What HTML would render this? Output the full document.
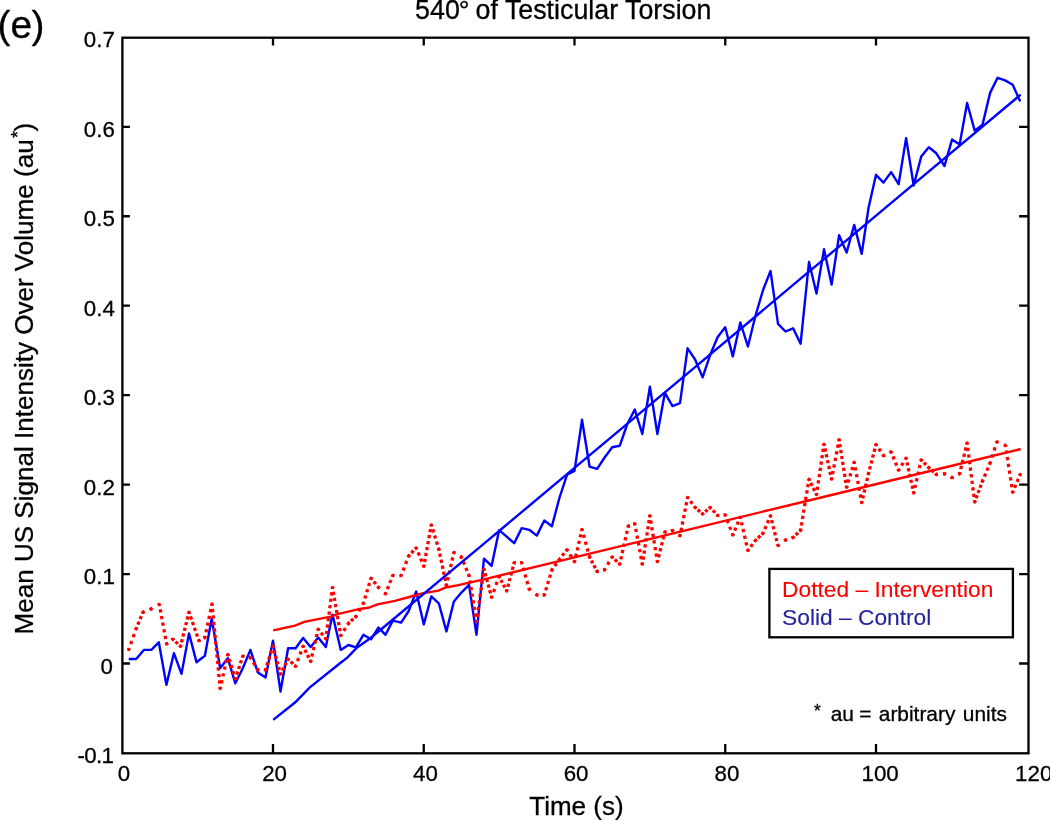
<!DOCTYPE html>
<html><head><meta charset="utf-8"><title>540° of Testicular Torsion</title>
<style>
html,body{margin:0;padding:0;background:#fff;}
body{width:1050px;height:820px;overflow:hidden;}
svg{display:block;font-family:"Liberation Sans",sans-serif;}
text{stroke-width:0.3px;stroke-linejoin:round;}
</style></head>
<body>
<svg width="1050" height="820" viewBox="0 0 1050 820">
<rect width="1050" height="820" fill="#fff"/>
<rect x="122.40" y="37.70" width="906.10" height="715.60" fill="none" stroke="#000" stroke-width="2.30"/>
<path d="M273.00 753.30 v-9.20 M273.00 37.70 v7.70 M423.75 753.30 v-9.20 M423.75 37.70 v7.70 M574.50 753.30 v-9.20 M574.50 37.70 v7.70 M725.25 753.30 v-9.20 M725.25 37.70 v7.70 M876.00 753.30 v-9.20 M876.00 37.70 v7.70 M122.40 663.50 h7.50 M1028.50 663.50 h-9.40 M122.40 574.05 h7.50 M1028.50 574.05 h-9.40 M122.40 484.60 h7.50 M1028.50 484.60 h-9.40 M122.40 395.15 h7.50 M1028.50 395.15 h-9.40 M122.40 305.70 h7.50 M1028.50 305.70 h-9.40 M122.40 216.25 h7.50 M1028.50 216.25 h-9.40 M122.40 126.80 h7.50 M1028.50 126.80 h-9.40" stroke="#000" stroke-width="2.30" fill="none"/>
<g font-size="22.3" fill="#000" stroke="#000"><text x="124.0" y="780.8" text-anchor="middle">0</text><text x="274.6" y="780.8" text-anchor="middle">20</text><text x="425.4" y="780.8" text-anchor="middle">40</text><text x="576.1" y="780.8" text-anchor="middle">60</text><text x="726.9" y="780.8" text-anchor="middle">80</text><text x="880.1" y="780.8" text-anchor="middle">100</text><text x="1033.7" y="780.8" text-anchor="middle">120</text><text x="113.1" y="762.9" text-anchor="end" letter-spacing="-0.7">-0.1</text><text x="113.0" y="673.9" text-anchor="end">0</text><text x="114.8" y="583.9" text-anchor="end">0.1</text><text x="114.8" y="494.5" text-anchor="end">0.2</text><text x="114.8" y="405.1" text-anchor="end">0.3</text><text x="114.8" y="315.6" text-anchor="end">0.4</text><text x="114.8" y="226.2" text-anchor="end">0.5</text><text x="114.8" y="136.7" text-anchor="end">0.6</text><text x="114.8" y="47.3" text-anchor="end">0.7</text></g>
<polyline points="128.7,659.0 136.2,659.0 143.8,649.9 151.3,649.9 158.8,642.3 166.4,684.9 173.9,653.2 181.5,673.9 189.0,633.4 196.5,662.3 204.9,655.8 211.7,618.5 220.2,668.2 227.8,658.2 235.3,683.3 242.8,668.2 250.4,649.9 257.9,672.6 265.5,677.6 273.0,640.6 280.5,691.5 288.1,648.3 295.6,648.3 303.1,638.0 310.7,647.0 318.2,637.6 325.8,647.0 332.5,614.6 340.8,649.9 348.4,645.0 355.9,647.4 363.4,634.8 371.0,639.3 378.5,627.5 385.5,634.8 392.8,620.7 401.1,622.7 408.7,611.0 416.2,591.5 423.8,624.4 431.3,596.4 438.8,603.3 446.4,631.4 453.9,601.5 461.4,592.6 469.0,584.8 476.5,634.7 484.0,558.6 491.6,565.9 499.1,530.2 506.7,536.7 514.2,543.2 521.7,528.1 529.3,529.8 536.8,535.6 544.3,520.5 551.9,526.2 559.4,498.0 567.0,474.8 574.5,470.9 582.0,419.8 589.6,466.7 597.1,468.8 604.6,457.5 612.2,447.3 619.7,445.8 627.3,424.0 634.8,409.6 642.3,434.0 649.9,386.8 657.4,434.0 664.9,392.8 672.5,406.1 680.0,403.2 687.6,348.3 695.1,359.5 702.6,377.4 710.2,354.8 717.7,337.0 725.2,327.2 732.8,356.4 740.3,322.4 747.9,346.5 755.4,316.0 762.9,290.5 770.5,270.9 778.0,323.8 785.5,331.5 793.1,328.3 800.6,343.7 809.0,262.0 816.5,293.5 824.0,249.3 831.6,284.6 839.1,235.2 846.6,252.6 854.2,224.9 861.7,253.9 868.5,208.0 876.0,174.8 883.5,182.6 891.1,172.1 898.6,184.2 906.1,138.1 913.7,185.5 921.2,156.6 928.8,147.2 936.3,153.3 944.5,166.0 952.1,139.4 959.6,144.6 967.1,103.0 974.7,130.6 982.5,124.8 990.1,92.9 997.6,77.8 1005.1,80.4 1012.7,84.8 1020.2,101.5" stroke="#0000ff" stroke-width="2.40" fill="none" stroke-linejoin="round"/>
<g stroke="#ff0000" stroke-width="3.30" fill="none" stroke-dashoffset="1.62"><path d="M128.7 649.6L136.2 628.6" stroke-dasharray="3.25 4.19"/><path d="M136.2 628.6L143.0 612.2" stroke-dasharray="3.25 2.66"/><path d="M143.0 612.2L151.0 609.0" stroke-dasharray="3.25 5.40"/><path d="M151.0 609.0L159.3 604.3" stroke-dasharray="3.25 6.32"/><path d="M159.3 604.3L166.6 644.0" stroke-dasharray="3.25 3.48"/><path d="M166.6 644.0L172.9 639.1" stroke-dasharray="3.25 4.76"/><path d="M172.9 639.1L180.5 646.4" stroke-dasharray="3.25 2.00"/><path d="M180.5 646.4L189.0 612.2" stroke-dasharray="3.25 2.62"/><path d="M189.0 612.2L198.9 640.7" stroke-dasharray="3.25 2.79"/><path d="M198.9 640.7L204.9 637.5" stroke-dasharray="3.25 3.49"/><path d="M204.9 637.5L212.0 604.0" stroke-dasharray="3.25 3.60"/><path d="M212.0 604.0L220.2 688.5" stroke-dasharray="3.25 3.28"/><path d="M220.2 688.5L227.8 654.5" stroke-dasharray="3.25 3.72"/><path d="M227.8 654.5L235.3 678.8" stroke-dasharray="3.25 3.11"/><path d="M235.3 678.8L242.8 656.1" stroke-dasharray="3.25 2.73"/><path d="M242.8 656.1L250.4 657.7" stroke-dasharray="3.25 4.46"/><path d="M250.4 657.7L257.9 669.9" stroke-dasharray="3.25 3.92"/><path d="M257.9 669.9L265.5 669.9" stroke-dasharray="3.25 4.29"/><path d="M265.5 669.9L273.0 646.0" stroke-dasharray="3.25 3.02"/><path d="M273.0 646.0L280.5 674.2" stroke-dasharray="3.25 2.59"/><path d="M280.5 674.2L288.1 659.1" stroke-dasharray="3.25 2.38"/><path d="M288.1 659.1L295.6 666.4" stroke-dasharray="3.25 2.00"/><path d="M295.6 666.4L303.1 646.1" stroke-dasharray="3.25 3.97"/><path d="M303.1 646.1L310.7 661.5" stroke-dasharray="3.25 2.47"/><path d="M310.7 661.5L318.2 629.1" stroke-dasharray="3.25 3.40"/><path d="M318.2 629.1L325.8 638.9" stroke-dasharray="3.25 2.93"/><path d="M325.8 638.9L332.5 587.4" stroke-dasharray="3.25 3.24"/><path d="M332.5 587.4L340.8 635.7" stroke-dasharray="3.25 2.88"/><path d="M340.8 635.7L348.4 623.4" stroke-dasharray="3.25 3.96"/><path d="M348.4 623.4L355.9 616.6" stroke-dasharray="3.25 1.83"/><path d="M355.9 616.6L363.4 603.3" stroke-dasharray="3.25 4.39"/><path d="M363.4 603.3L371.0 578.2" stroke-dasharray="3.25 3.30"/><path d="M371.0 578.2L378.5 587.4" stroke-dasharray="3.25 2.70"/><path d="M378.5 587.4L385.5 593.9" stroke-dasharray="3.25 6.26"/><path d="M385.5 593.9L392.8 575.3" stroke-dasharray="3.25 3.41"/><path d="M392.8 575.3L401.1 575.6" stroke-dasharray="3.25 5.09"/><path d="M401.1 575.6L408.7 555.9" stroke-dasharray="3.25 3.78"/><path d="M408.7 555.9L416.2 547.8" stroke-dasharray="3.25 2.28"/><path d="M416.2 547.8L423.8 566.4" stroke-dasharray="3.25 3.44"/><path d="M423.8 566.4L431.3 524.8" stroke-dasharray="3.25 2.79"/><path d="M431.3 524.8L438.8 549.2" stroke-dasharray="3.25 3.13"/><path d="M438.8 549.2L446.4 585.3" stroke-dasharray="3.25 2.90"/><path d="M446.4 585.3L453.9 552.4" stroke-dasharray="3.25 3.50"/><path d="M453.9 552.4L461.4 557.0" stroke-dasharray="3.25 5.58"/><path d="M461.4 557.0L469.0 575.4" stroke-dasharray="3.25 3.38"/><path d="M469.0 575.4L476.5 621.7" stroke-dasharray="3.25 3.45"/><path d="M476.5 621.7L484.0 569.1" stroke-dasharray="3.25 3.39"/><path d="M484.0 569.1L491.6 597.4" stroke-dasharray="3.25 2.61"/><path d="M491.6 597.4L499.1 576.5" stroke-dasharray="3.25 4.16"/><path d="M499.1 576.5L506.7 591.0" stroke-dasharray="3.25 2.20"/><path d="M506.7 591.0L514.2 562.6" stroke-dasharray="3.25 2.63"/><path d="M514.2 562.6L521.7 562.6" stroke-dasharray="3.25 4.29"/><path d="M521.7 562.6L529.3 589.3" stroke-dasharray="3.25 3.69"/><path d="M529.3 589.3L536.8 595.0" stroke-dasharray="3.25 6.20"/><path d="M536.8 595.0L544.3 595.0" stroke-dasharray="3.25 4.29"/><path d="M544.3 595.0L551.9 569.9" stroke-dasharray="3.25 3.30"/><path d="M551.9 569.9L559.4 559.4" stroke-dasharray="3.25 3.21"/><path d="M559.4 559.4L567.0 549.7" stroke-dasharray="3.25 2.89"/><path d="M567.0 549.7L574.5 561.8" stroke-dasharray="3.25 3.88"/><path d="M574.5 561.8L582.0 529.4" stroke-dasharray="3.25 3.40"/><path d="M582.0 529.4L589.6 557.0" stroke-dasharray="3.25 3.90"/><path d="M589.6 557.0L597.1 571.5" stroke-dasharray="3.25 2.20"/><path d="M597.1 571.5L604.6 569.8" stroke-dasharray="3.25 4.48"/><path d="M604.6 569.8L612.2 556.9" stroke-dasharray="3.25 4.22"/><path d="M612.2 556.9L619.7 564.2" stroke-dasharray="3.25 2.00"/><path d="M619.7 564.2L628.3 526.0" stroke-dasharray="3.25 3.27"/><path d="M628.3 526.0L634.8 523.7" stroke-dasharray="3.25 3.68"/><path d="M634.8 523.7L642.3 564.2" stroke-dasharray="3.25 3.62"/><path d="M642.3 564.2L649.9 515.6" stroke-dasharray="3.25 2.90"/><path d="M649.9 515.6L657.4 561.7" stroke-dasharray="3.25 3.42"/><path d="M657.4 561.7L664.9 531.8" stroke-dasharray="3.25 2.92"/><path d="M664.9 531.8L672.5 530.5" stroke-dasharray="3.25 4.40"/><path d="M672.5 530.5L680.0 535.8" stroke-dasharray="3.25 5.96"/><path d="M680.0 535.8L687.6 497.3" stroke-dasharray="3.25 3.29"/><path d="M687.6 497.3L695.1 507.5" stroke-dasharray="3.25 3.09"/><path d="M695.1 507.5L702.6 514.0" stroke-dasharray="3.25 1.73"/><path d="M702.6 514.0L710.2 507.5" stroke-dasharray="3.25 1.73"/><path d="M710.2 507.5L717.7 515.6" stroke-dasharray="3.25 2.28"/><path d="M717.7 515.6L725.2 514.8" stroke-dasharray="3.25 4.33"/><path d="M725.2 514.8L732.8 535.0" stroke-dasharray="3.25 3.94"/><path d="M732.8 535.0L740.3 517.2" stroke-dasharray="3.25 3.19"/><path d="M740.3 517.2L747.9 550.5" stroke-dasharray="3.25 3.58"/><path d="M747.9 550.5L755.4 540.4" stroke-dasharray="3.25 3.05"/><path d="M755.4 540.4L762.9 533.5" stroke-dasharray="3.25 1.86"/><path d="M762.9 533.5L770.5 515.7" stroke-dasharray="3.25 3.19"/><path d="M770.5 515.7L778.0 545.6" stroke-dasharray="3.25 2.92"/><path d="M778.0 545.6L785.5 540.0" stroke-dasharray="3.25 6.14"/><path d="M785.5 540.0L793.1 537.5" stroke-dasharray="3.25 4.69"/><path d="M793.1 537.5L800.6 530.2" stroke-dasharray="3.25 2.00"/><path d="M800.6 530.2L809.0 479.2" stroke-dasharray="3.25 3.21"/><path d="M809.0 479.2L816.5 494.6" stroke-dasharray="3.25 2.47"/><path d="M816.5 494.6L824.0 444.1" stroke-dasharray="3.25 3.13"/><path d="M824.0 444.1L831.6 479.2" stroke-dasharray="3.25 2.73"/><path d="M831.6 479.2L839.1 439.6" stroke-dasharray="3.25 3.47"/><path d="M839.1 439.6L846.6 487.3" stroke-dasharray="3.25 2.79"/><path d="M846.6 487.3L854.2 462.2" stroke-dasharray="3.25 3.30"/><path d="M854.2 462.2L861.7 502.7" stroke-dasharray="3.25 3.62"/><path d="M861.7 502.7L868.5 473.6" stroke-dasharray="3.25 2.72"/><path d="M868.5 473.6L876.0 444.4" stroke-dasharray="3.25 2.78"/><path d="M876.0 444.4L883.5 455.8" stroke-dasharray="3.25 3.58"/><path d="M883.5 455.8L891.1 451.8" stroke-dasharray="3.25 5.28"/><path d="M891.1 451.8L898.6 470.3" stroke-dasharray="3.25 3.41"/><path d="M898.6 470.3L906.1 458.1" stroke-dasharray="3.25 3.92"/><path d="M906.1 458.1L913.7 493.0" stroke-dasharray="3.25 2.70"/><path d="M913.7 493.0L921.2 459.9" stroke-dasharray="3.25 3.54"/><path d="M921.2 459.9L928.8 467.7" stroke-dasharray="3.25 2.17"/><path d="M928.8 467.7L936.3 474.5" stroke-dasharray="3.25 1.83"/><path d="M936.3 474.5L944.5 473.7" stroke-dasharray="3.25 5.03"/><path d="M944.5 473.7L952.1 477.7" stroke-dasharray="3.25 5.28"/><path d="M952.1 477.7L959.6 473.7" stroke-dasharray="3.25 5.28"/><path d="M959.6 473.7L967.1 442.9" stroke-dasharray="3.25 3.09"/><path d="M967.1 442.9L974.7 502.0" stroke-dasharray="3.25 3.37"/><path d="M974.7 502.0L982.5 481.0" stroke-dasharray="3.25 2.35"/><path d="M982.5 481.0L990.1 463.1" stroke-dasharray="3.25 3.22"/><path d="M990.1 463.1L996.9 441.8" stroke-dasharray="3.25 4.21"/><path d="M996.9 441.8L1005.4 445.3" stroke-dasharray="3.25 5.98"/><path d="M1005.4 445.3L1012.7 492.3" stroke-dasharray="3.25 3.54"/><path d="M1012.7 492.3L1020.2 474.5" stroke-dasharray="3.25 3.19"/></g><g fill="#ff0000"><circle cx="128.7" cy="649.6" r="1.65"/><circle cx="136.2" cy="628.6" r="1.65"/><circle cx="143.0" cy="612.2" r="1.65"/><circle cx="151.0" cy="609.0" r="1.65"/><circle cx="159.3" cy="604.3" r="1.65"/><circle cx="166.6" cy="644.0" r="1.65"/><circle cx="172.9" cy="639.1" r="1.65"/><circle cx="180.5" cy="646.4" r="1.65"/><circle cx="189.0" cy="612.2" r="1.65"/><circle cx="198.9" cy="640.7" r="1.65"/><circle cx="204.9" cy="637.5" r="1.65"/><circle cx="212.0" cy="604.0" r="1.65"/><circle cx="220.2" cy="688.5" r="1.65"/><circle cx="227.8" cy="654.5" r="1.65"/><circle cx="235.3" cy="678.8" r="1.65"/><circle cx="242.8" cy="656.1" r="1.65"/><circle cx="250.4" cy="657.7" r="1.65"/><circle cx="257.9" cy="669.9" r="1.65"/><circle cx="265.5" cy="669.9" r="1.65"/><circle cx="273.0" cy="646.0" r="1.65"/><circle cx="280.5" cy="674.2" r="1.65"/><circle cx="288.1" cy="659.1" r="1.65"/><circle cx="295.6" cy="666.4" r="1.65"/><circle cx="303.1" cy="646.1" r="1.65"/><circle cx="310.7" cy="661.5" r="1.65"/><circle cx="318.2" cy="629.1" r="1.65"/><circle cx="325.8" cy="638.9" r="1.65"/><circle cx="332.5" cy="587.4" r="1.65"/><circle cx="340.8" cy="635.7" r="1.65"/><circle cx="348.4" cy="623.4" r="1.65"/><circle cx="355.9" cy="616.6" r="1.65"/><circle cx="363.4" cy="603.3" r="1.65"/><circle cx="371.0" cy="578.2" r="1.65"/><circle cx="378.5" cy="587.4" r="1.65"/><circle cx="385.5" cy="593.9" r="1.65"/><circle cx="392.8" cy="575.3" r="1.65"/><circle cx="401.1" cy="575.6" r="1.65"/><circle cx="408.7" cy="555.9" r="1.65"/><circle cx="416.2" cy="547.8" r="1.65"/><circle cx="423.8" cy="566.4" r="1.65"/><circle cx="431.3" cy="524.8" r="1.65"/><circle cx="438.8" cy="549.2" r="1.65"/><circle cx="446.4" cy="585.3" r="1.65"/><circle cx="453.9" cy="552.4" r="1.65"/><circle cx="461.4" cy="557.0" r="1.65"/><circle cx="469.0" cy="575.4" r="1.65"/><circle cx="476.5" cy="621.7" r="1.65"/><circle cx="484.0" cy="569.1" r="1.65"/><circle cx="491.6" cy="597.4" r="1.65"/><circle cx="499.1" cy="576.5" r="1.65"/><circle cx="506.7" cy="591.0" r="1.65"/><circle cx="514.2" cy="562.6" r="1.65"/><circle cx="521.7" cy="562.6" r="1.65"/><circle cx="529.3" cy="589.3" r="1.65"/><circle cx="536.8" cy="595.0" r="1.65"/><circle cx="544.3" cy="595.0" r="1.65"/><circle cx="551.9" cy="569.9" r="1.65"/><circle cx="559.4" cy="559.4" r="1.65"/><circle cx="567.0" cy="549.7" r="1.65"/><circle cx="574.5" cy="561.8" r="1.65"/><circle cx="582.0" cy="529.4" r="1.65"/><circle cx="589.6" cy="557.0" r="1.65"/><circle cx="597.1" cy="571.5" r="1.65"/><circle cx="604.6" cy="569.8" r="1.65"/><circle cx="612.2" cy="556.9" r="1.65"/><circle cx="619.7" cy="564.2" r="1.65"/><circle cx="628.3" cy="526.0" r="1.65"/><circle cx="634.8" cy="523.7" r="1.65"/><circle cx="642.3" cy="564.2" r="1.65"/><circle cx="649.9" cy="515.6" r="1.65"/><circle cx="657.4" cy="561.7" r="1.65"/><circle cx="664.9" cy="531.8" r="1.65"/><circle cx="672.5" cy="530.5" r="1.65"/><circle cx="680.0" cy="535.8" r="1.65"/><circle cx="687.6" cy="497.3" r="1.65"/><circle cx="695.1" cy="507.5" r="1.65"/><circle cx="702.6" cy="514.0" r="1.65"/><circle cx="710.2" cy="507.5" r="1.65"/><circle cx="717.7" cy="515.6" r="1.65"/><circle cx="725.2" cy="514.8" r="1.65"/><circle cx="732.8" cy="535.0" r="1.65"/><circle cx="740.3" cy="517.2" r="1.65"/><circle cx="747.9" cy="550.5" r="1.65"/><circle cx="755.4" cy="540.4" r="1.65"/><circle cx="762.9" cy="533.5" r="1.65"/><circle cx="770.5" cy="515.7" r="1.65"/><circle cx="778.0" cy="545.6" r="1.65"/><circle cx="785.5" cy="540.0" r="1.65"/><circle cx="793.1" cy="537.5" r="1.65"/><circle cx="800.6" cy="530.2" r="1.65"/><circle cx="809.0" cy="479.2" r="1.65"/><circle cx="816.5" cy="494.6" r="1.65"/><circle cx="824.0" cy="444.1" r="1.65"/><circle cx="831.6" cy="479.2" r="1.65"/><circle cx="839.1" cy="439.6" r="1.65"/><circle cx="846.6" cy="487.3" r="1.65"/><circle cx="854.2" cy="462.2" r="1.65"/><circle cx="861.7" cy="502.7" r="1.65"/><circle cx="868.5" cy="473.6" r="1.65"/><circle cx="876.0" cy="444.4" r="1.65"/><circle cx="883.5" cy="455.8" r="1.65"/><circle cx="891.1" cy="451.8" r="1.65"/><circle cx="898.6" cy="470.3" r="1.65"/><circle cx="906.1" cy="458.1" r="1.65"/><circle cx="913.7" cy="493.0" r="1.65"/><circle cx="921.2" cy="459.9" r="1.65"/><circle cx="928.8" cy="467.7" r="1.65"/><circle cx="936.3" cy="474.5" r="1.65"/><circle cx="944.5" cy="473.7" r="1.65"/><circle cx="952.1" cy="477.7" r="1.65"/><circle cx="959.6" cy="473.7" r="1.65"/><circle cx="967.1" cy="442.9" r="1.65"/><circle cx="974.7" cy="502.0" r="1.65"/><circle cx="982.5" cy="481.0" r="1.65"/><circle cx="990.1" cy="463.1" r="1.65"/><circle cx="996.9" cy="441.8" r="1.65"/><circle cx="1005.4" cy="445.3" r="1.65"/><circle cx="1012.7" cy="492.3" r="1.65"/><circle cx="1020.2" cy="474.5" r="1.65"/></g>
<path d="M273.2 630.4 L295.1 625.7 L304.3 621.8 L330.6 616.6 L338.6 613.8 L361.0 608.7 L368.3 607.8 L377.6 604.4 L395.0 600.9 L409.3 597.0 L421.3 593.6 L438.4 590.6 L445.3 587.6 L455.0 585.8 L484.0 579.4 L574.5 557.4 L687.6 529.9 L800.6 502.5 L913.7 475.0 L1020.7 449.0" stroke="#ff0000" stroke-width="2.40" fill="none"/>
<path d="M273.2 719.9 L295.3 702.3 L309.6 687.6 L340.0 663.3 L347.3 657.7 L356.4 648.1 L368.5 639.6 L380.0 630.3 L484.0 543.6 L574.5 467.9 L687.6 373.3 L800.6 278.7 L913.7 184.2 L1020.7 94.6" stroke="#0000ff" stroke-width="2.40" fill="none"/>
<rect x="769.4" y="568.9" width="243.5" height="68.4" fill="#fff" stroke="#000" stroke-width="2.3"/>
<text x="782.1" y="597.2" font-size="22.75" fill="#ff0000" stroke="#ff0000" style="stroke-width:0.12px">Dotted – Intervention</text>
<text x="782.1" y="625.2" font-size="22.75" fill="#2323a0" stroke="#2323a0" style="stroke-width:0.12px">Solid – Control</text>
<text x="813.9" y="717.2" font-size="17.5" fill="#000" stroke="#000">*</text><text x="830.7" y="720.6" font-size="20.9" word-spacing="1.6" fill="#000" stroke="#000">au <tspan dx="-2.2">= arbitrary units</tspan></text>
<text x="415.1" y="19.0" font-size="26.8" stroke="#000">540<tspan dx="-1.0" dy="1">°</tspan><tspan dx="-1.4" dy="-1"> of Testicular Torsion</tspan></text>
<text x="576.4" y="814.6" font-size="26" text-anchor="middle" stroke="#000">Time (s)</text>
<text transform="translate(33.4 634.5) rotate(-90)" font-size="26.06" stroke="#000">Mean US Signal Intensity Over Volume (au<tspan dy="-9.4" dx="1.4" font-size="18">*</tspan><tspan dy="9.4" dx="-0.5">)</tspan></text>
<text x="-2.4" y="38.3" font-size="38.8" stroke="#000">(e<tspan dx="-0.7">)</tspan></text>
</svg>
</body></html>
